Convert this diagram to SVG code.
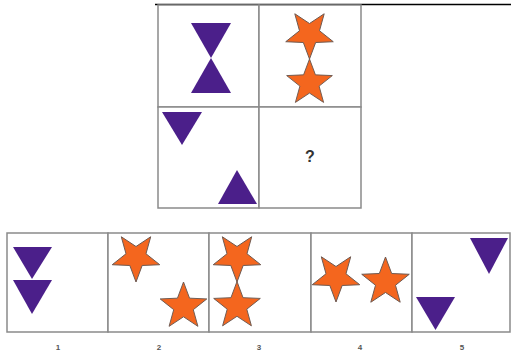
<svg xmlns="http://www.w3.org/2000/svg" xmlns:xlink="http://www.w3.org/1999/xlink" width="511" height="356" viewBox="0 0 511 356">
<style>
.cell{fill:#fff;stroke:#8a8a8a;stroke-width:1.5}
.tri{fill:#4B1F8A}
.star{fill:#F4661E;stroke:#6e5a52;stroke-width:1}
.lbl{font-family:"Liberation Sans",Arial,sans-serif;font-size:8px;fill:#555;text-anchor:middle;font-weight:bold}
.q{font-family:"Liberation Sans",Arial,sans-serif;font-size:16px;font-weight:bold;fill:#333;text-anchor:middle}
</style>
<defs>
<path id="star" d="M0,-25 L6.17,-8.49 L23.78,-7.73 L9.99,3.24 L14.69,20.23 L0,10.5 L-14.69,20.23 L-9.99,3.24 L-23.78,-7.73 L-6.17,-8.49 Z"/>
</defs>
<rect width="511" height="356" fill="#fff"/>
<line x1="155" y1="4.5" x2="511" y2="4.5" stroke="#000" stroke-width="1.5"/>
<g id="cell-a">
<rect class="cell" x="158" y="5" width="101" height="102"/>
<polygon class="tri" points="191,23 231,23 211,58"/>
<polygon class="tri" points="211,58 191,93 231,93"/>
</g>
<g id="cell-b">
<rect class="cell" x="259" y="5" width="102" height="102"/>
<use href="#star" class="star" transform="translate(309.5,34) rotate(180)"/>
<use href="#star" class="star" transform="translate(309.5,83) scale(0.96)"/>
</g>
<g id="cell-c">
<rect class="cell" x="158" y="107" width="101" height="101"/>
<polygon class="tri" points="162,112 202,112 182,145"/>
<polygon class="tri" points="237,170 218,204 257,204"/>
</g>
<g id="cell-d">
<rect class="cell" x="259" y="107" width="102" height="101"/>
<text class="q" x="310" y="162">?</text>
</g>
<g id="option-1">
<rect class="cell" x="7" y="233" width="101" height="99"/>
<polygon class="tri" points="13,247 52,247 32,279"/>
<polygon class="tri" points="13,280 52,280 32,314"/>
<text class="lbl" x="58" y="350">1</text>
</g>
<g id="option-2">
<rect class="cell" x="108" y="233" width="101" height="99"/>
<use href="#star" class="star" transform="translate(136,257) rotate(180)"/>
<use href="#star" class="star" transform="translate(183.5,306.5) scale(0.98)"/>
<text class="lbl" x="159" y="350">2</text>
</g>
<g id="option-3">
<rect class="cell" x="209" y="233" width="102" height="99"/>
<use href="#star" class="star" transform="translate(237,257) rotate(180)"/>
<use href="#star" class="star" transform="translate(237,306) scale(0.98)"/>
<text class="lbl" x="259" y="350">3</text>
</g>
<g id="option-4">
<rect class="cell" x="311" y="233" width="101" height="99"/>
<use href="#star" class="star" transform="translate(336,277) rotate(180)"/>
<use href="#star" class="star" transform="translate(385.5,282)"/>
<text class="lbl" x="360" y="350">4</text>
</g>
<g id="option-5">
<rect class="cell" x="412" y="233" width="98" height="99"/>
<polygon class="tri" points="470,238 508,238 489,274"/>
<polygon class="tri" points="416,297 455,297 435.5,330"/>
<text class="lbl" x="462" y="350">5</text>
</g>
</svg>
